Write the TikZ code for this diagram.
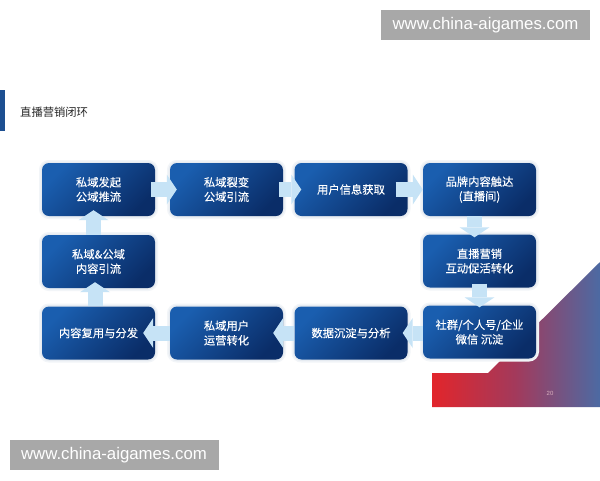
\documentclass[tikz,border=0pt]{standalone}
\usepackage{fontspec}
\setmainfont{Liberation Sans}
\newfontfamily\cjk[FakeBold=0.12]{Noto Sans CJK SC}
\newfontfamily\cjktitle{Noto Sans CJK SC}
\usetikzlibrary{arrows.meta}
\definecolor{boxlight}{HTML}{1A5EAF}
\definecolor{boxdark}{HTML}{0A2D68}
\definecolor{arrowblue}{HTML}{C6E3F6}
\definecolor{barblue}{HTML}{1D4F91}
\definecolor{wmgrey}{HTML}{A8A8A8}
\definecolor{gradred}{HTML}{E2252B}
\definecolor{gradmid}{HTML}{A23A5C}
\definecolor{gradblue}{HTML}{4C6AA3}
\definecolor{glow}{HTML}{B8C6D8}
\begin{document}
\begin{tikzpicture}[x=1pt,y=-1pt,
  stepbox/.style={rounded corners=7pt, minimum width=113pt, minimum height=53pt,
    inner sep=0pt, shading=axis, top color=boxlight, bottom color=boxdark,
    shading angle=45, text=white, align=center,
    font=\cjk\fontsize{11.3}{14.5}\selectfont,
    preaction={draw=glow!18, line width=6pt},
    preaction={draw=glow!35, line width=3pt}},
  flow/.style={draw=arrowblue, line width=15pt,
    -{Triangle[width=30pt,length=10pt,line width=0pt]}},
  watermark/.style={fill=wmgrey, text=white, minimum width=209pt, minimum height=30pt,
    inner sep=0pt, font=\fontsize{16.8}{18}\selectfont}
]
\path[use as bounding box, fill=white] (0,0) rectangle (600,480);

% red-blue gradient corner
\shade[left color=gradred, right color=gradblue, middle color=gradmid]
  (432,373) -- (488,373) -- (600,262) -- (600,407) -- (432,407) -- cycle;
\node[text=gradmid!40!white, font=\fontsize{6}{7}\selectfont] (pg) at (550,393) {20};

% title
\fill[barblue] (0,90) rectangle (5,131);
\node[anchor=west, text=black!85, font=\cjktitle\fontsize{11.3}{13}\selectfont, inner sep=0pt] (title) at (20,112) {直播营销闭环};

% boxes
\node[stepbox] (b1) at (98.5,189.5) {私域发起\\公域推流};
\node[stepbox] (b2) at (226.5,189.5) {私域裂变\\公域引流};
\node[stepbox] (b3) at (351,189.5) {用户信息获取};
\node[stepbox] (b4) at (479.5,189.5) {品牌内容触达\\(直播间)};
\node[stepbox] (b5) at (479.5,261) {直播营销\\互动促活转化};
\node[stepbox] (b6) at (479.5,332) {社群/个人号/企业\\微信 沉淀};
\node[stepbox] (b7) at (351,333) {数据沉淀与分析};
\node[stepbox] (b8) at (226.5,333) {私域用户\\运营转化};
\node[stepbox] (b9) at (98.5,333) {内容复用与分发};
\node[stepbox] (b10) at (98.5,261.5) {私域\&公域\\内容引流};

% arrows
\draw[flow] ([xshift=-4pt]b1.east) -- ([xshift=7pt]b2.west);
\draw[flow] ([xshift=-4pt]b2.east) -- ([xshift=7pt]b3.west);
\draw[flow] ([xshift=-12pt]b3.east) -- ([xshift=0pt]b4.west);
\draw[flow] ([xshift=-5pt]b4.south) -- ([xshift=-5pt,yshift=-3pt]b5.north);
\draw[flow] ([yshift=4pt]b5.south) -- ([yshift=-2pt]b6.north);
\draw[flow] ([yshift=-1pt]b6.west) -- ([xshift=-5pt]b7.east);
\draw[flow] (b7.west) -- ([xshift=-10pt]b8.east);
\draw[flow] (b8.west) -- ([xshift=-12pt]b9.east);
\draw[flow] ([xshift=-3.5pt]b9.north) -- ([xshift=-3.5pt,yshift=6pt]b10.south);
\draw[flow] ([xshift=-5pt]b10.north) -- ([xshift=-5pt,yshift=6pt]b1.south);

% watermarks
\node[watermark] (wm1) at (485.5,25) {www.china-aigames.com};
\node[watermark] (wm2) at (114,455) {www.china-aigames.com};
\end{tikzpicture}
\end{document}
